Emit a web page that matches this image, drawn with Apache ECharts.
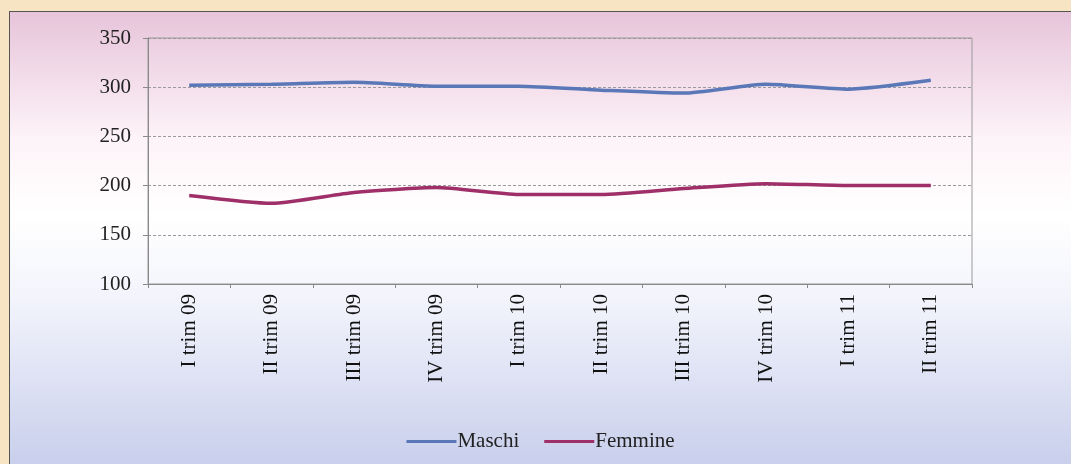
<!DOCTYPE html>
<html><head><meta charset="utf-8">
<script src="https://cdn.jsdelivr.net/npm/echarts@6/dist/echarts.min.js"></script>
<style>
html,body{margin:0;padding:0;background:#f7e4c3;width:1071px;height:464px;overflow:hidden;}
#c{position:absolute;left:9px;top:11px;width:1061px;height:452px;border-left:1px solid #555;border-top:1px solid #555;}
</style></head><body>
<div id="c"></div>
<script>
const categories = ['I trim 09','II trim 09','III trim 09','IV trim 09','I trim 10','II trim 10','III trim 10','IV trim 10','I trim 11','II trim 11'];
const maschi = [302, 303, 305, 301, 301, 297, 294, 303, 298, 307];
const femmine = [190, 182, 193, 198, 191, 191, 197, 202, 200, 200];
const yTicks = {min: 100, max: 350, interval: 50};

const chart = echarts.init(document.getElementById('c'));
chart.setOption({
  backgroundColor: {type:'linear', x:0, y:0, x2:0, y2:1, colorStops:[
    {offset:0, color:'#e7c4da'},
    {offset:0.28, color:'#fdf3f8'},
    {offset:0.45, color:'#ffffff'},
    {offset:0.62, color:'#f4f5fc'},
    {offset:1, color:'#c9cfec'}
  ]},
  animation:false,
  grid:{left:138, right:99, top:26, bottom:180, show:true, borderColor:'#9a9a9a', borderWidth:1, backgroundColor:'transparent'},
  legend:{top:414, left:'center', icon:'rect', itemWidth:50, itemHeight:3, itemGap:25,
    textStyle:{fontFamily:'Liberation Serif', fontSize:21, color:'#222', padding:[0,0,0,-4]},
    data:['Maschi','Femmine']},
  xAxis:{type:'category', data:categories, boundaryGap:true,
    axisLine:{lineStyle:{color:'#8a8a8a'}},
    axisTick:{show:true, length:4, lineStyle:{color:'#8a8a8a'}},
    axisLabel:{rotate:90, fontFamily:'Liberation Serif', fontSize:21, color:'#111', margin:10}},
  yAxis:{type:'value', min:yTicks.min, max:yTicks.max, interval:yTicks.interval,
    axisLine:{show:true, lineStyle:{color:'#8a8a8a'}},
    axisTick:{show:true, length:5, lineStyle:{color:'#8a8a8a'}},
    splitLine:{show:true, lineStyle:{color:'#9a9a9a', type:[3,2]}},
    axisLabel:{fontFamily:'Liberation Serif', fontSize:21, color:'#222', margin:17}},
  series:[
    {name:'Maschi', type:'line', data:maschi, symbol:'none', smooth:0.2,
     lineStyle:{color:'#5a78b8', width:3.5}, itemStyle:{color:'#5a78b8'}},
    {name:'Femmine', type:'line', data:femmine, symbol:'none', smooth:0.2,
     lineStyle:{color:'#9e2f68', width:3.5}, itemStyle:{color:'#9e2f68'}}
  ]
});
</script></body></html>
